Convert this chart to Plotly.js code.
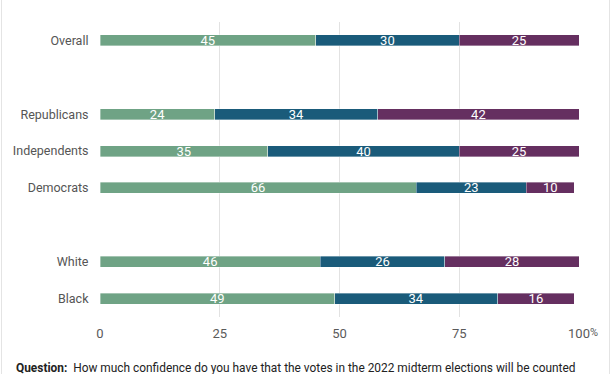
<!DOCTYPE html>
<html>
<head>
<meta charset="utf-8">
<script src="https://cdn.plot.ly/plotly-3.0.1.min.js"></script>
<style>
  html, body { margin: 0; padding: 0; background: #fff; }
  #wrap { position: relative; width: 612px; height: 374px; overflow: hidden; }
  #chart { width: 612px; height: 374px; }
  .edge { position: absolute; top: 0; width: 1px; height: 374px; background: #e4e4e4; }
</style>
</head>
<body>
<div id="wrap">
  <div id="chart"></div>
  <div class="edge" style="left:1px"></div>
  <div class="edge" style="left:609px"></div>
</div>
<script>
// Category order, top to bottom (blank-looking entries are spacer slots)
const categories = ["Overall", " ", "Republicans", "Independents", "Democrats", "  ", "White", "Black"];
const groups = ["Overall", "Republicans", "Independents", "Democrats", "White", "Black"];
const seriesA = [45, 24, 35, 66, 46, 49];
const seriesB = [30, 34, 40, 23, 26, 34];
const seriesC = [25, 42, 25, 10, 28, 16];
const colors = ["#6fa385", "#1a5b7a", "#652f60"];
const tickVals = [0, 25, 50, 75, 100];
const tickText = ["0", "25", "50", "75", "100"];

function trace(vals, color) {
  return {
    type: "bar",
    orientation: "h",
    y: groups,
    x: vals,
    text: vals.map(String),
    textposition: "inside",
    insidetextanchor: "middle",
    textangle: 0,
    constraintext: "none",
    textfont: { family: "Roboto, sans-serif", size: 13, color: "#ffffff" },
    marker: { color: color, line: { color: "rgba(255,255,255,0.6)", width: 0.6 } },
    width: 0.3,
    hoverinfo: "skip",
    showlegend: false
  };
}

const data = [trace(seriesA, colors[0]), trace(seriesB, colors[1]), trace(seriesC, colors[2])];

const layout = {
  width: 612,
  height: 374,
  margin: { l: 100, r: 33, t: 22, b: 57 },
  barmode: "stack",
  paper_bgcolor: "#ffffff",
  plot_bgcolor: "#ffffff",
  font: { family: "Roboto, sans-serif", color: "#555555" },
  xaxis: {
    range: [0, 100],
    tickvals: tickVals,
    ticktext: tickText,
    showgrid: true,
    gridcolor: "#e2e2e2",
    gridwidth: 1,
    zeroline: false,
    showline: false,
    ticks: "outside",
    ticklen: 4,
    tickcolor: "rgba(0,0,0,0)",
    tickfont: { family: "Roboto, sans-serif", size: 13, color: "#5a5a5a" },
    fixedrange: true
  },
  yaxis: {
    type: "category",
    categoryorder: "array",
    categoryarray: categories,
    autorange: "reversed",
    range: [7.5, -0.5],
    showgrid: false,
    zeroline: false,
    showline: false,
    ticks: "outside",
    ticklen: 8,
    tickcolor: "rgba(0,0,0,0)",
    tickfont: { family: "Roboto, sans-serif", size: 12.5, color: "#555555" },
    fixedrange: true
  },
  annotations: [
    {
      xref: "x", yref: "paper", x: 100, y: 0,
      xanchor: "left", yanchor: "top",
      xshift: 9, yshift: -7,
      text: "%", showarrow: false,
      font: { family: "Roboto, sans-serif", size: 11, color: "#5a5a5a" }
    },
    {
      xref: "paper", yref: "paper",
      x: -0.1795, y: -0.172,
      xanchor: "left", yanchor: "middle",
      text: "<b>Question:</b>&nbsp; How much confidence do you have that the votes in the 2022 midterm elections will be counted",
      showarrow: false,
      font: { family: "Roboto, sans-serif", size: 11.9, color: "#222222" }
    }
  ]
};

Plotly.newPlot("chart", data, layout, { displayModeBar: false, staticPlot: true });
</script>
</body>
</html>
